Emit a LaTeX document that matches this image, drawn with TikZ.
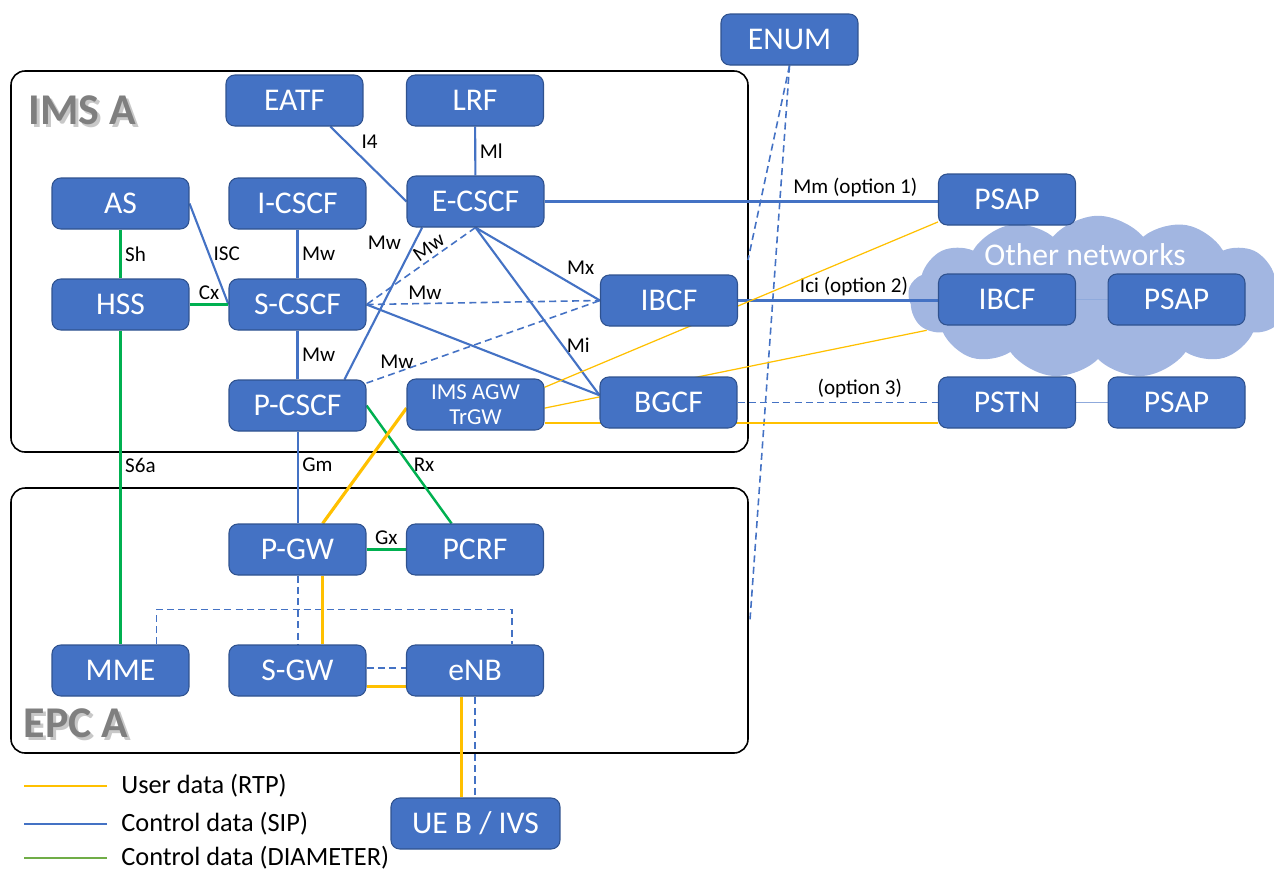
\documentclass[tikz,border=0pt]{standalone}
\usepackage{fontspec}
\setmainfont{Carlito}
\usetikzlibrary{shapes.symbols,backgrounds}
\definecolor{boxblue}{HTML}{4472C4}
\definecolor{boxline}{HTML}{2F528F}
\definecolor{sipblue}{HTML}{4472C4}
\definecolor{psapblue}{HTML}{8FAADC}
\definecolor{diagreen}{HTML}{00B050}
\definecolor{leggreen}{HTML}{70AD47}
\definecolor{rtpyellow}{HTML}{FFC000}
\definecolor{cloudblue}{HTML}{A2B6E1}
\definecolor{titlegray}{HTML}{7F7F7F}
\definecolor{shadowgray}{HTML}{C8C8C8}
\pgfdeclarelayer{edges}
\pgfsetlayers{background,edges,main}
\begin{document}
\begin{tikzpicture}[x=0.02cm,y=-0.02cm]
\tikzstyle{mybox}=[draw=boxline, line width=0.6pt, fill=boxblue, rounded corners=5pt,
  text=white, minimum width=2.74cm, minimum height=1.02cm, inner sep=1pt,
  font=\fontsize{18}{20}\selectfont]
\tikzstyle{mylbl}=[font=\fontsize{12}{14}\selectfont, inner sep=2pt]
\tikzstyle{legtxt}=[font=\fontsize{15}{17}\selectfont, inner sep=0pt, anchor=west]
\tikzstyle{sip}=[draw=sipblue, line width=1.2pt]
\tikzstyle{sipd}=[draw=sipblue, line width=0.9pt, dash pattern=on 4pt off 2.5pt]
\tikzstyle{psapline}=[draw=psapblue, line width=0.9pt]
\tikzstyle{dia}=[draw=diagreen, line width=1.4pt]
\tikzstyle{rtp}=[draw=rtpyellow, line width=1.8pt]
\tikzstyle{rtpthin}=[draw=rtpyellow, line width=0.7pt]
\tikzstyle{frame}=[draw=black, line width=0.9pt, rounded corners=8pt]
\tikzstyle{nettitle}=[font=\fontsize{25}{28}\selectfont\bfseries, text=titlegray]
\useasboundingbox (0,0) rectangle (1274,870);

% network frames and cloud
\begin{pgfonlayer}{background}
\draw[frame] (11,71) rectangle (748,452);
\draw[frame] (11,488) rectangle (748,753);
\node[cloud, cloud puffs=13, cloud puff arc=100, aspect=2.6, fill=cloudblue,
  minimum width=7.6cm, minimum height=3.25cm, inner sep=0pt] (cloud) at (1098,297) {};
\end{pgfonlayer}
\node[nettitle, text=shadowgray] (imsashadow) at (85,113) {IMS A};
\node[nettitle] (imsa) at (82,110) {IMS A};
\node[nettitle, text=shadowgray] (epcashadow) at (79,726) {EPC A};
\node[nettitle] (epca) at (76,723) {EPC A};
\node[font=\fontsize{18}{20}\selectfont, text=white] (othernet) at (1085,255) {Other networks};

% IMS A
\node[mybox] (enum) at (789.5,39.5) {ENUM};
\node[mybox] (eatf) at (294.5,100.5) {EATF};
\node[mybox] (lrf) at (475,100.5) {LRF};
\node[mybox] (as) at (120.5,203.5) {AS};
\node[mybox] (icscf) at (297.5,203.5) {I-CSCF};
\node[mybox] (ecscf) at (475.5,201.5) {E-CSCF};
\node[mybox] (hss) at (120.5,304.5) {HSS};
\node[mybox] (scscf) at (297.5,304.5) {S-CSCF};
\node[mybox] (ibcf) at (669,300.5) {IBCF};
\node[mybox] (pcscf) at (297.5,405.5) {P-CSCF};
\node[mybox, font=\fontsize{13}{14}\selectfont, align=center] (imsagw) at (475.5,404.5) {IMS AGW\\TrGW};
\node[mybox] (bgcf) at (668.5,402.5) {BGCF};
% other networks
\node[mybox] (psapa) at (1007,199.5) {PSAP};
\node[mybox] (ibcfb) at (1007,299.5) {IBCF};
\node[mybox] (psapb) at (1176.5,299.5) {PSAP};
\node[mybox] (pstn) at (1007,402.5) {PSTN};
\node[mybox] (psapc) at (1176.5,402.5) {PSAP};
% EPC A
\node[mybox] (pgw) at (297.5,549.5) {P-GW};
\node[mybox] (pcrf) at (475,549.5) {PCRF};
\node[mybox] (mme) at (120.5,670.5) {MME};
\node[mybox] (sgw) at (297.5,670.5) {S-GW};
\node[mybox] (enb) at (475,670.5) {eNB};
\node[mybox, minimum width=3.38cm] (ue) at (475.5,823.5) {UE B / IVS};

\coordinate (enumA) at (748,260);
\coordinate (enumB) at (750,620);

\begin{pgfonlayer}{edges}
% SIP
\draw[sip] (eatf.-36) -- (ecscf.west) node[mylbl, pos=0.35, above right] {I4};
\draw[sip] (lrf) -- (ecscf) node[mylbl, midway, right] {Ml};
\draw[sip] (ecscf.east) -- (ecscf.east -| psapa.west) node[mylbl, pos=0.79, above] {Mm (option 1)};
\draw[sip] (as.east) -- (scscf.west) node[mylbl, midway, right] {ISC};
\draw[sip] (icscf) -- (scscf) node[mylbl, midway, right] {Mw};
\draw[sip] (ecscf.-154) -- (pcscf.29) node[mylbl, pos=0.1, left=5pt] {Mw};
\draw[sipd] (ecscf.south) -- (scscf.east) node[mylbl, pos=0.37, sloped, above] {Mw};
\draw[sipd] (scscf.east) -- (ibcf.west) node[mylbl, pos=0.25, above] {Mw};
\draw[sipd] (pcscf.18) -- (ibcf.west) node[mylbl, pos=0.13, above] {Mw};
\draw[sip] (scscf.east) -- (bgcf.174);
\draw[sip] (ecscf.south) -- (ibcf.west) node[mylbl, pos=0.7, above right] {Mx};
\draw[sip] (ecscf.south) -- (bgcf.174) node[mylbl, pos=0.7, right] {Mi};
\draw[sip] (scscf) -- (pcscf) node[mylbl, midway, right] {Mw};
\draw[sip, line width=1pt] (pcscf.-89) -- (pcscf.-89 |- pgw.north) node[mylbl, pos=0.36, right] {Gm};
\draw[sip] (ibcf.east) -- (ibcf.east -| ibcfb.west) node[mylbl, pos=0.58, above] {Ici (option 2)};
\draw[psapline] (ibcfb) -- (psapb);
\draw[sipd] (bgcf.east) -- (bgcf.east -| pstn.west) node[mylbl, pos=0.61, above] {(option 3)};
\draw[psapline] (pstn) -- (psapc);
\draw[sipd] (enum.south) -- (enumA);
\draw[sipd] (enum.south) -- (enumB);
\draw[sipd] (pgw.-89) -- (pgw.-89 |- sgw.north);
\draw[sipd] (sgw.2) -- (sgw.2 -| enb.west);
\draw[sipd] (enb.south) -- (enb.south |- ue.north);
\draw[sipd] (mme.36) -- ++(0,-35) -| (enb.35);
% DIAMETER
\draw[dia] (as) -- (hss) node[mylbl, midway, right] {Sh};
\draw[dia] (hss) -- (scscf) node[mylbl, midway, above] {Cx};
\draw[dia] (hss) -- (mme) node[mylbl, pos=0.43, right] {S6a};
\draw[dia] (pcscf.east) -- (pcrf.132) node[mylbl, pos=0.5, right] {Rx};
\draw[dia] (pgw) -- (pcrf) node[mylbl, midway, above] {Gx};
% RTP
\draw[rtp] (imsagw.183) -- (pgw.46);
\draw[rtp] (pgw.-46) -- (sgw.46);
\draw[rtp] (sgw.-13) -- (sgw.-13 -| enb.west);
\draw[rtp] (enb.-117) -- (enb.-117 |- ue.north);
\draw[rtpthin] (imsagw.14) -- (psapa.-162);
\draw[rtpthin] (imsagw.-3) -- (cloud.191);
\draw[rtpthin] (imsagw.-15) -- (imsagw.-15 -| pstn.west);
\end{pgfonlayer}

% legend
\node[legtxt] (legrtp) at (121,786) {User data (RTP)};
\node[legtxt] (legsip) at (121,824) {Control data (SIP)};
\node[legtxt] (legdia) at (121,858) {Control data (DIAMETER)};
\draw[rtp, line width=1.4pt] (legrtp.west) ++(-14,0) -- ++(-83,0);
\draw[sip, line width=1.4pt] (legsip.west) ++(-14,0) -- ++(-83,0);
\draw[dia, draw=leggreen, line width=1.4pt] (legdia.west) ++(-14,0) -- ++(-83,0);
\end{tikzpicture}
\end{document}
